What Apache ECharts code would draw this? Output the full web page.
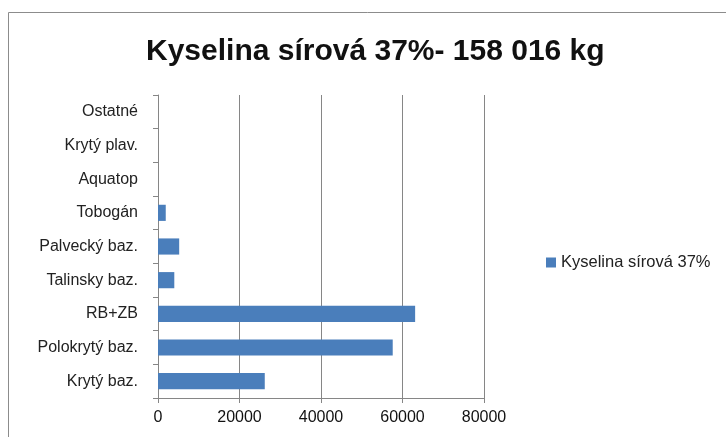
<!DOCTYPE html>
<html>
<head>
<meta charset="utf-8">
<script src="https://cdn.jsdelivr.net/npm/echarts@6/dist/echarts.min.js"></script>
<style>
  html, body { margin: 0; padding: 0; background: #fff; }
  #chart { width: 726px; height: 437px; }
</style>
</head>
<body>
<div id="chart"></div>
<script>
// kategorie zdola nahoru (jak je kreslí osa y)
var categories = ['Krytý baz.', 'Polokrytý baz.', 'RB+ZB', 'Talinsky baz.', 'Palvecký baz.', 'Tobogán', 'Aquatop', 'Krytý plav.', 'Ostatné'];
var values = [26200, 57600, 63100, 4000, 5200, 1900, 0, 0, 0];
var seriesName = 'Kyselina sírová 37%';
var titleText = 'Kyselina sírová 37%- 158 016 kg';

var chart = echarts.init(document.getElementById('chart'));

var option = {
    animation: false,
    backgroundColor: '#fff',
    graphic: [
        {
            // rámeček grafu
            type: 'rect',
            shape: { x: 8.5, y: 12.5, width: 740, height: 450 },
            style: { fill: 'none', stroke: '#8c8c8c', lineWidth: 1 }
        }
    ],
    title: {
        text: titleText,
        left: 141,
        top: 32,
        textStyle: {
            fontFamily: 'Liberation Sans',
            fontWeight: 'bold',
            fontSize: 30,
            color: '#111'
        }
    },
    legend: {
        data: [seriesName],
        left: 541,
        top: 249,
        itemWidth: 10,
        itemHeight: 10,
        itemGap: 5,
        icon: 'rect',
        textStyle: { fontFamily: 'Liberation Sans', fontSize: 16.5, color: '#222' }
    },
    grid: {
        left: 158,
        right: 242,
        top: 95,
        bottom: 39,
        containLabel: false
    },
    xAxis: {
        type: 'value',
        min: 0,
        max: 80000,
        interval: 20000,
        axisLine: { show: true, lineStyle: { color: '#868686' } },
        axisTick: { show: true, length: 5, lineStyle: { color: '#868686' } },
        splitLine: { show: true, lineStyle: { color: '#868686', width: 1 } },
        axisLabel: {
            fontFamily: 'Liberation Sans',
            fontSize: 16,
            color: '#111',
            margin: 12,
            formatter: function (v) { return String(v); }
        }
    },
    yAxis: {
        type: 'category',
        data: categories,
        axisLine: { show: true, lineStyle: { color: '#868686' } },
        axisTick: { show: true, length: 5, lineStyle: { color: '#868686' } },
        axisLabel: { fontFamily: 'Liberation Sans', fontSize: 16, color: '#222', margin: 20 }
    },
    series: [
        {
            name: seriesName,
            type: 'bar',
            data: values,
            barCategoryGap: '52%',
            itemStyle: { color: '#4a7ebb' }
        }
    ]
};

chart.setOption(option);
</script>
</body>
</html>
